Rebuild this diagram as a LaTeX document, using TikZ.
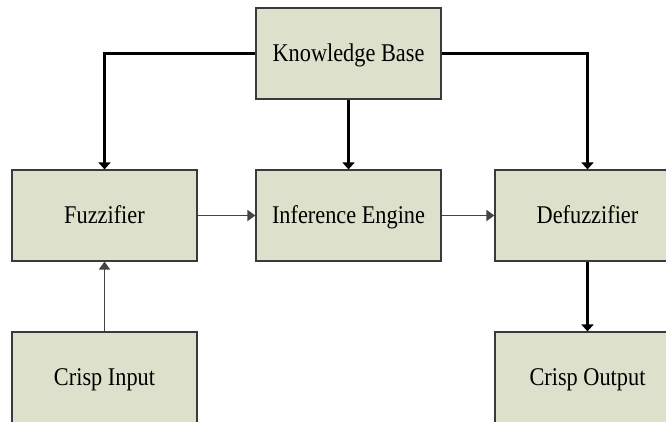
\documentclass[tikz,border=0pt]{standalone}
\usepackage{fontspec}
\setmainfont{Liberation Serif}
\usetikzlibrary{arrows.meta}
\definecolor{boxfill}{HTML}{DDE0CA}
\definecolor{boxline}{HTML}{3A3A3A}
\definecolor{thinline}{HTML}{444444}
% narrow, tall lettering for the block captions
\newcommand\blocklabel[1]{\scalebox{0.875}[1]{#1}}
\begin{document}
\begin{tikzpicture}[x=1pt,y=-1pt,
  block/.style={draw=boxline,line width=1.2pt,fill=boxfill,minimum width=185pt,
    minimum height=91pt,inner sep=0pt,text height=17pt,text depth=1pt,
    font=\fontsize{25.5}{28}\selectfont},
  strong/.style={line width=2.6pt,black,-{Triangle[width=12pt,length=7pt]}},
  light/.style={line width=1.8pt,thinline,-{Triangle[width=11pt,length=8pt]}}]
  \useasboundingbox (0,0) rectangle (666,421);
  \clip (0,0) rectangle (666,421);
  \node[block] (kb) at (348.5,53.5) {\blocklabel{Knowledge Base}};
  \node[block] (fz) at (104.5,215.5) {\blocklabel{Fuzzifier}};
  \node[block] (ie) at (348.5,215.5) {\blocklabel{Inference Engine}};
  \node[block] (dz) at (587.5,215.5) {\blocklabel{Defuzzifier}};
  \node[block] (ci) at (104.5,377.5) {\blocklabel{Crisp Input}};
  \node[block] (co) at (587.5,377.5) {\blocklabel{Crisp Output}};
  % rule base feeds the three processing stages
  \draw[strong] (kb.west) -| (fz.north);
  \draw[strong] (kb.east) -| (dz.north);
  \draw[strong] (kb.south) -- (ie.north);
  % main signal path
  \draw[light] (fz.east) -- (ie.west);
  \draw[light] (ie.east) -- (dz.west);
  \draw[light] (ci.north) -- (fz.south);
  \draw[strong] (dz.south) -- (co.north);
\end{tikzpicture}
\end{document}
